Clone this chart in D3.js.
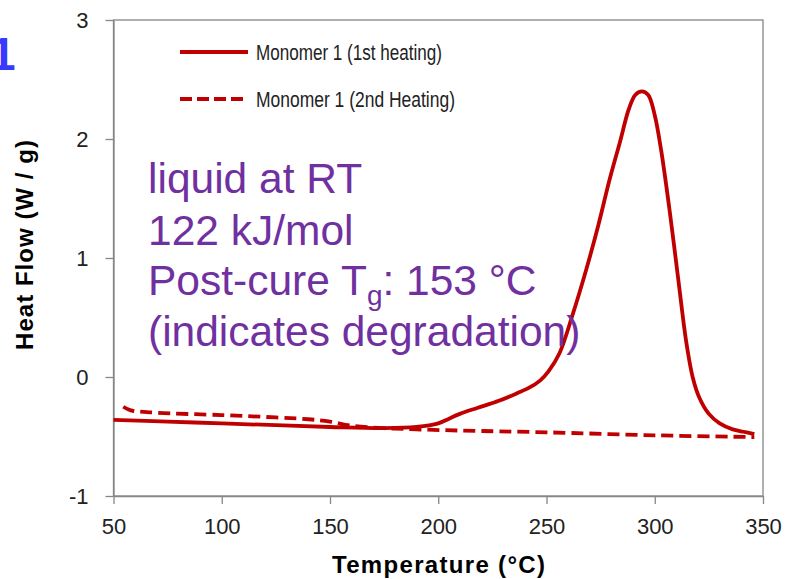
<!DOCTYPE html>
<html>
<head>
<meta charset="utf-8">
<script src="https://cdn.jsdelivr.net/npm/d3@7"></script>
<style>
  body { margin: 0; background: #fff; }
  text { font-family: "Liberation Sans", Arial, sans-serif; }
</style>
</head>
<body>
<div id="chart"></div>
<script>
// values
const firstHeatT = [50, 75, 100, 125, 150, 175, 190, 200, 205, 210, 218, 228, 236, 242, 247, 251, 256, 262, 268, 274, 279, 284, 288, 291, 294, 297, 300, 303, 307, 311, 314.5, 317.5, 320.5, 325, 330, 336, 341, 346];
const firstHeatV = [-0.36, -0.375, -0.39, -0.405, -0.42, -0.43, -0.42, -0.39, -0.35, -0.31, -0.26, -0.2, -0.14, -0.09, -0.03, 0.05, 0.2, 0.52, 0.88, 1.28, 1.65, 1.98, 2.25, 2.37, 2.40, 2.37, 2.2, 1.9, 1.38, 0.8, 0.3, 0.0, -0.17, -0.31, -0.39, -0.44, -0.46, -0.48];
const secondHeatT = [54.5, 58, 70, 100, 125, 140, 150, 160, 175, 190, 210, 250, 300, 346];
const secondHeatV = [-0.25, -0.28, -0.3, -0.32, -0.34, -0.355, -0.375, -0.41, -0.43, -0.44, -0.45, -0.465, -0.49, -0.505];
const xTicks = [50, 100, 150, 200, 250, 300, 350];
const yTicks = [-1, 0, 1, 2, 3];
const legendLabels = ["Monomer 1 (1st heating)", "Monomer 1 (2nd Heating)"];
const noteLines = ["liquid at RT", "122 kJ/mol", "Post-cure T", "(indicates degradation)"];

const width = 788, height = 579;
const margin = {left: 113.5, right: 25, top: 20, bottom: 83};
const red = '#c00000', purple = '#7030a0', grey = '#868686';

const svg = d3.select('#chart').append('svg')
    .attr('width', width)
    .attr('height', height);

const x = d3.scaleLinear().domain([50, 350]).range([margin.left, width - margin.right]);
const y = d3.scaleLinear().domain([-1, 3]).range([height - margin.bottom, margin.top]);

// plot frame
svg.append('rect')
    .attr('x', x(50)).attr('y', y(3))
    .attr('width', x(350) - x(50)).attr('height', y(-1) - y(3))
    .attr('fill', 'none').attr('stroke', grey).attr('stroke-width', 1.3);

// axes
const xAxis = svg.append('g')
    .attr('transform', `translate(0,${y(-1)})`)
    .call(d3.axisBottom(x).tickValues(xTicks).tickSize(8).tickSizeOuter(0).tickPadding(14));
const yAxis = svg.append('g')
    .attr('transform', `translate(${x(50)},0)`)
    .call(d3.axisLeft(y).tickValues(yTicks).tickSize(8).tickSizeOuter(0).tickPadding(17).tickFormat(d3.format('d')));
[xAxis, yAxis].forEach(g => {
    g.select('.domain').attr('stroke', grey).attr('stroke-width', 1.3);
    g.selectAll('.tick line').attr('stroke', grey).attr('stroke-width', 1.3);
    g.selectAll('.tick text')
        .attr('fill', '#222')
        .style('font-size', '22px')
        .style('font-family', '"Liberation Sans", Arial, sans-serif');
});
yAxis.selectAll('.tick text').text(d => d < 0 ? '-' + Math.abs(d) : d);

// axis titles
svg.append('text')
    .attr('x', 438.5).attr('y', 573)
    .attr('text-anchor', 'middle')
    .attr('textLength', 213)
    .style('font-size', '24px').style('font-weight', 'bold')
    .text('Temperature (°C)');
svg.append('text')
    .attr('transform', 'translate(33,245) rotate(-90)')
    .attr('text-anchor', 'middle')
    .attr('textLength', 210)
    .style('font-size', '24px').style('font-weight', 'bold')
    .text('Heat Flow (W / g)');

// curves
const line = d3.line()
    .x(d => x(d[0]))
    .y(d => y(d[1]))
    .curve(d3.curveCatmullRom.alpha(0.5));

svg.append('path')
    .datum(secondHeatT.map((t, i) => [t, secondHeatV[i]]))
    .attr('d', line)
    .attr('fill', 'none').attr('stroke', red)
    .attr('stroke-width', 3.8)
    .attr('stroke-dasharray', '12,6');

svg.append('path')
    .datum(firstHeatT.map((t, i) => [t, firstHeatV[i]]))
    .attr('d', line)
    .attr('fill', 'none').attr('stroke', red)
    .attr('stroke-width', 3.8)
    .attr('stroke-linejoin', 'round');

// legend
const legend = svg.append('g');
legendLabels.forEach((label, i) => {
    const ly = 52 + i * 47;
    legend.append('line')
        .attr('x1', 180).attr('x2', 248)
        .attr('y1', ly).attr('y2', ly)
        .attr('stroke', red).attr('stroke-width', 3.8)
        .attr('stroke-dasharray', i === 1 ? '12,5' : null);
    legend.append('text')
        .attr('x', 256).attr('y', ly + 8)
        .attr('fill', '#222')
        .attr('textLength', i === 0 ? 186 : 199)
        .attr('lengthAdjust', 'spacingAndGlyphs')
        .style('font-size', '22px')
        .text(label);
});

// annotation
const note = svg.append('text')
    .attr('fill', purple)
    .style('font-size', '42.5px');
const baselines = [193, 245, 295, 346];
noteLines.forEach((s, i) => {
    note.append('tspan').attr('x', 148).attr('y', baselines[i]).text(s);
    if (i === 2) {
        note.append('tspan').attr('dy', 10).style('font-size', '28px').text('g');
        note.append('tspan').attr('dy', -10).text(': 153 °C');
    }
});

// blue figure number, cut off at the left edge
svg.append('text')
    .attr('x', -10).attr('y', 70)
    .attr('fill', '#3838ff')
    .style('font-size', '46px').style('font-weight', 'bold')
    .text('1');
</script>
</body>
</html>
